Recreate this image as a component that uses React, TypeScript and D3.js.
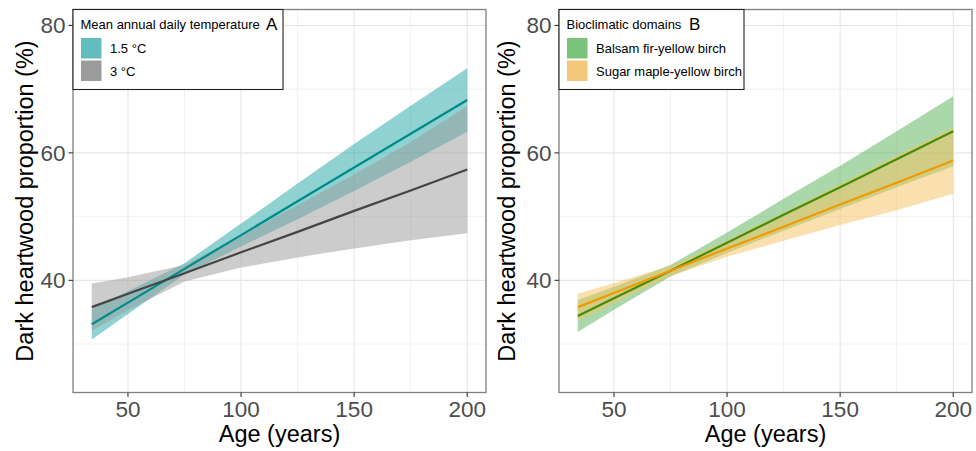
import React from "react";
import * as d3 from "d3";

// ---------- data ----------
const ages = [34, 50, 75, 100, 125, 150, 175, 200];

// Panel A: mean annual daily temperature
const temp15Fit = [33.1, 36.5, 41.8, 47.1, 52.4, 57.7, 63.0, 68.3];
const temp15Lower = [30.7, 34.7, 40.9, 45.3, 49.6, 54.0, 58.6, 63.3];
const temp15Upper = [35.5, 38.3, 42.7, 48.9, 55.2, 61.4, 67.4, 73.3];

const temp3Fit = [35.8, 37.9, 41.1, 44.4, 47.6, 50.9, 54.1, 57.4];
const temp3Lower = [32.1, 35.3, 39.8, 42.0, 43.6, 45.0, 46.3, 47.4];
const temp3Upper = [39.5, 40.5, 42.4, 47.0, 51.8, 56.6, 61.7, 67.3];

// Panel B: bioclimatic domains
const balsamFit = [34.4, 37.2, 41.5, 45.9, 50.3, 54.6, 59.0, 63.4];
const balsamLower = [31.9, 35.4, 40.6, 44.3, 47.8, 51.2, 54.6, 57.9];
const balsamUpper = [36.9, 39.0, 42.4, 47.5, 52.8, 58.0, 63.4, 68.9];

const sugarFit = [35.8, 38.0, 41.5, 45.0, 48.4, 51.9, 55.3, 58.8];
const sugarLower = [33.7, 36.4, 40.7, 43.7, 46.2, 48.7, 51.0, 53.6];
const sugarUpper = [37.9, 39.6, 42.3, 46.3, 50.6, 55.1, 59.6, 64.0];

const xTicks = [50, 100, 150, 200];
const xMinor = [75, 125, 175];
const yTicks = [40, 60, 80];
const yMinor = [30, 50, 70];

const legendATitle = "Mean annual daily temperature";
const legendALabels = ["1.5 °C", "3 °C"];
const legendBTitle = "Bioclimatic domains";
const legendBLabels = ["Balsam fir-yellow birch", "Sugar maple-yellow birch"];

const xTitle = "Age (years)";
const yTitle = "Dark heartwood proportion (%)";

// ---------- styling ----------
const FONT = "'Liberation Sans', Arial, Helvetica, sans-serif";
const X_DOMAIN: [number, number] = [25.7, 208.3];
const Y_DOMAIN: [number, number] = [22.4, 82.5];
const PANEL_W = 413;
const TOP = 9.5;
const BOTTOM = 392.5;

type Series = {
  fit: number[];
  lower: number[];
  upper: number[];
  line: string;
  fill: string;
  key: string;
  label: string;
};

const panelA: Series[] = [
  { fit: temp15Fit, lower: temp15Lower, upper: temp15Upper, line: "#008b8b", fill: "#22a6a6", key: "#63bdbd", label: legendALabels[0] },
  { fit: temp3Fit, lower: temp3Lower, upper: temp3Upper, line: "#454545", fill: "#999999", key: "#9b9b9b", label: legendALabels[1] },
];
const panelB: Series[] = [
  { fit: balsamFit, lower: balsamLower, upper: balsamUpper, line: "#448c0a", fill: "#55b155", key: "#7cc47c", label: legendBLabels[0] },
  { fit: sugarFit, lower: sugarLower, upper: sugarUpper, line: "#f09a00", fill: "#f7c160", key: "#f5c77a", label: legendBLabels[1] },
];

type PanelProps = {
  left: number;
  titleX: number;
  series: Series[];
  legendTitle: string;
  letter: string;
  legendW: number;
  letterX: number;
};

function Panel({ left, titleX, series, legendTitle, letter, legendW, letterX }: PanelProps) {
  const x = d3.scaleLinear().domain(X_DOMAIN).range([left, left + PANEL_W]);
  const y = d3.scaleLinear().domain(Y_DOMAIN).range([BOTTOM, TOP]);
  const makeArea = (s: Series) =>
    d3
      .area<number>()
      .x((d) => x(d))
      .y0((_, i) => y(s.lower[i]))
      .y1((_, i) => y(s.upper[i]))(ages) || "";
  const line = d3
    .line<number>()
    .x((_, i) => x(ages[i]))
    .y((d) => y(d));

  const right = left + PANEL_W;
  const lx = left;
  const ly = TOP;
  const legendH = 80;
  return (
    <g>
      {/* grid */}
      {xMinor.map((t) => (
        <line key={"xm" + t} x1={x(t)} x2={x(t)} y1={TOP} y2={BOTTOM} stroke="#ededed" strokeWidth={0.8} />
      ))}
      {yMinor.map((t) => (
        <line key={"ym" + t} x1={left} x2={right} y1={y(t)} y2={y(t)} stroke="#ededed" strokeWidth={0.8} />
      ))}
      {xTicks.map((t) => (
        <line key={"xg" + t} x1={x(t)} x2={x(t)} y1={TOP} y2={BOTTOM} stroke="#e6e6e6" strokeWidth={1.1} />
      ))}
      {yTicks.map((t) => (
        <line key={"yg" + t} x1={left} x2={right} y1={y(t)} y2={y(t)} stroke="#e6e6e6" strokeWidth={1.1} />
      ))}

      {/* ribbons */}
      {series.map((s, i) => (
        <path key={"r" + i} d={makeArea(s)} fill={s.fill} fillOpacity={0.5} stroke="none" />
      ))}
      {/* fitted lines */}
      {series.map((s, i) => (
        <path key={"l" + i} d={line(s.fit) || ""} fill="none" stroke={s.line} strokeWidth={2.2} />
      ))}

      {/* panel border */}
      <rect x={left} y={TOP} width={PANEL_W} height={BOTTOM - TOP} fill="none" stroke="#808080" strokeWidth={1.3} />

      {/* x axis ticks */}
      {xTicks.map((t) => (
        <g key={"xt" + t}>
          <line x1={x(t)} x2={x(t)} y1={BOTTOM} y2={BOTTOM + 4.5} stroke="#333" strokeWidth={1.1} />
          <text x={x(t)} y={416.5} textAnchor="middle" fontSize={22.5} fill="#4d4d4d" fontFamily={FONT}>
            {t}
          </text>
        </g>
      ))}
      {/* y axis ticks */}
      {yTicks.map((t) => (
        <g key={"yt" + t}>
          <line x1={left - 4.5} x2={left} y1={y(t)} y2={y(t)} stroke="#333" strokeWidth={1.1} />
          <text x={left - 7.5} y={y(t) + 8} textAnchor="end" fontSize={22.5} fill="#4d4d4d" fontFamily={FONT}>
            {t}
          </text>
        </g>
      ))}

      {/* axis titles */}
      <text x={(left + right) / 2} y={442} textAnchor="middle" fontSize={23.5} fill="#000" fontFamily={FONT}>
        {xTitle}
      </text>
      <text
        transform={`translate(${titleX},${(TOP + BOTTOM) / 2}) rotate(-90)`}
        textAnchor="middle"
        fontSize={23.5}
        fill="#000"
        fontFamily={FONT}
      >
        {yTitle}
      </text>

      {/* legend */}
      <rect x={lx} y={ly} width={legendW} height={legendH} fill="#fff" stroke="#222" strokeWidth={1.1} />
      <text x={lx + 7.5} y={ly + 19.5} fontSize={13} fill="#000" fontFamily={FONT}>
        {legendTitle}
      </text>
      <text x={letterX} y={ly + 20} fontSize={17} fill="#000" fontFamily={FONT}>
        {letter}
      </text>
      {series.map((s, i) => (
        <g key={"k" + i}>
          <rect x={lx + 8} y={ly + 28.5 + i * 22.5} width={20.5} height={20.5} fill={s.key} />
          <text x={lx + 37} y={ly + 43.5 + i * 22.5} fontSize={13} fill="#000" fontFamily={FONT}>
            {s.label}
          </text>
        </g>
      ))}
    </g>
  );
}

export default function App() {
  return (
    <svg
      width={976}
      height={451}
      viewBox="0 0 976 451"
      style={{ position: "absolute", left: 0, top: 0, background: "#fff" }}
    >
      <rect x={0} y={0} width={976} height={451} fill="#fff" />
      <Panel left={73} titleX={33} series={panelA} legendTitle={legendATitle} letter="A" legendW={210} letterX={266} />
      <Panel left={559} titleX={515} series={panelB} legendTitle={legendBTitle} letter="B" legendW={185} letterX={689} />
    </svg>
  );
}
